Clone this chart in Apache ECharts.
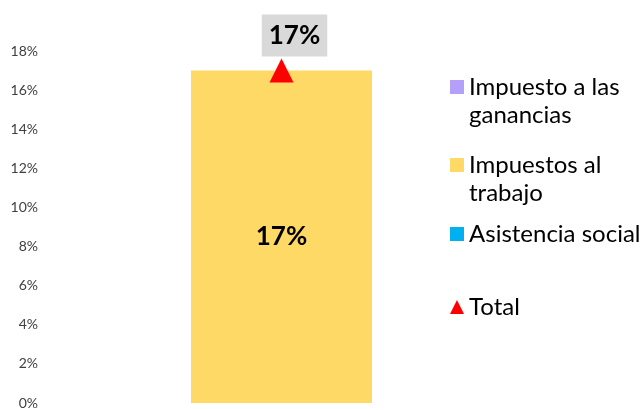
<!DOCTYPE html>
<html>
<head>
<meta charset="utf-8">
<script src="https://cdn.jsdelivr.net/npm/echarts@6/dist/echarts.min.js"></script>
<style>
  html, body { margin: 0; padding: 0; background: #fff; }
  #chart { width: 643px; height: 410px; }
</style>
</head>
<body>
<div id="chart"></div>
<script>
// data
var categories = [''];
var ganancias = [0];
var trabajo = [17];
var asistencia = [0];
var total = [17];
var yTicks = [0, 2, 4, 6, 8, 10, 12, 14, 16, 18];

var font = 'Lato';

var chartDom = document.getElementById('chart');
var chart = echarts.init(chartDom);

// square at the top of a taller box, so the icon sits on the first line
var topSquare = 'path://M0,0H14V14H0Z M0,42';

// one legend per item, so they can be spaced like the original
function legendAt(name, top, icon, tall) {
    return {
        data: [name],
        left: 450,
        top: top,
        padding: 0,
        icon: icon,
        itemWidth: 14,
        itemHeight: tall ? 42 : 14,
        selectedMode: false,
        formatter: function (n) {
            if (n === 'Impuesto a las ganancias') return 'Impuesto a las\nganancias';
            if (n === 'Impuestos al trabajo') return 'Impuestos al\ntrabajo';
            return n;
        },
        textStyle: {
            fontFamily: font,
            fontSize: 24,
            color: '#000',
            lineHeight: 28
        }
    };
}

var option = {
    animation: false,
    backgroundColor: '#fff',
    grid: { left: 46, right: 126, top: 51, bottom: 6, containLabel: false },
    legend: [
        legendAt('Impuesto a las ganancias', 73, topSquare, true),
        legendAt('Impuestos al trabajo', 151, topSquare, true),
        legendAt('Asistencia social', 220, 'rect', false),
        legendAt('Total', 293, 'triangle', false)
    ],
    xAxis: {
        type: 'category',
        data: categories,
        axisLine: { show: false },
        axisTick: { show: false },
        axisLabel: { show: false }
    },
    yAxis: {
        type: 'value',
        min: yTicks[0],
        max: yTicks[yTicks.length - 1],
        interval: 2,
        axisLine: { show: false },
        axisTick: { show: false },
        splitLine: { show: false },
        axisLabel: {
            formatter: '{value}%',
            fontFamily: font,
            fontSize: 14,
            color: '#404040',
            margin: 8
        }
    },
    series: [
        {
            name: 'Impuesto a las ganancias',
            type: 'bar',
            stack: 'a',
            barWidth: 181,
            data: ganancias,
            itemStyle: { color: '#B4A0FA' }
        },
        {
            name: 'Impuestos al trabajo',
            type: 'bar',
            stack: 'a',
            barWidth: 181,
            data: trabajo,
            itemStyle: { color: '#FFD966' },
            label: {
                show: true,
                position: 'inside',
                formatter: '{c}%',
                fontFamily: font,
                fontSize: 26,
                fontWeight: 'bold',
                color: '#000'
            }
        },
        {
            name: 'Asistencia social',
            type: 'bar',
            stack: 'a',
            barWidth: 181,
            data: asistencia,
            itemStyle: { color: '#00B0F0' }
        },
        {
            name: 'Total',
            type: 'scatter',
            symbol: 'triangle',
            symbolSize: 24,
            data: total,
            itemStyle: { color: '#FF0000', opacity: 1 },
            z: 5,
            label: {
                show: true,
                position: 'top',
                distance: 2,
                offset: [13, 0],
                formatter: '{c}%',
                fontFamily: font,
                fontSize: 26,
                fontWeight: 'bold',
                color: '#000',
                lineHeight: 28,
                backgroundColor: '#D9D9D9',
                padding: [7, 7]
            }
        }
    ]
};

chart.setOption(option);
</script>
</body>
</html>
